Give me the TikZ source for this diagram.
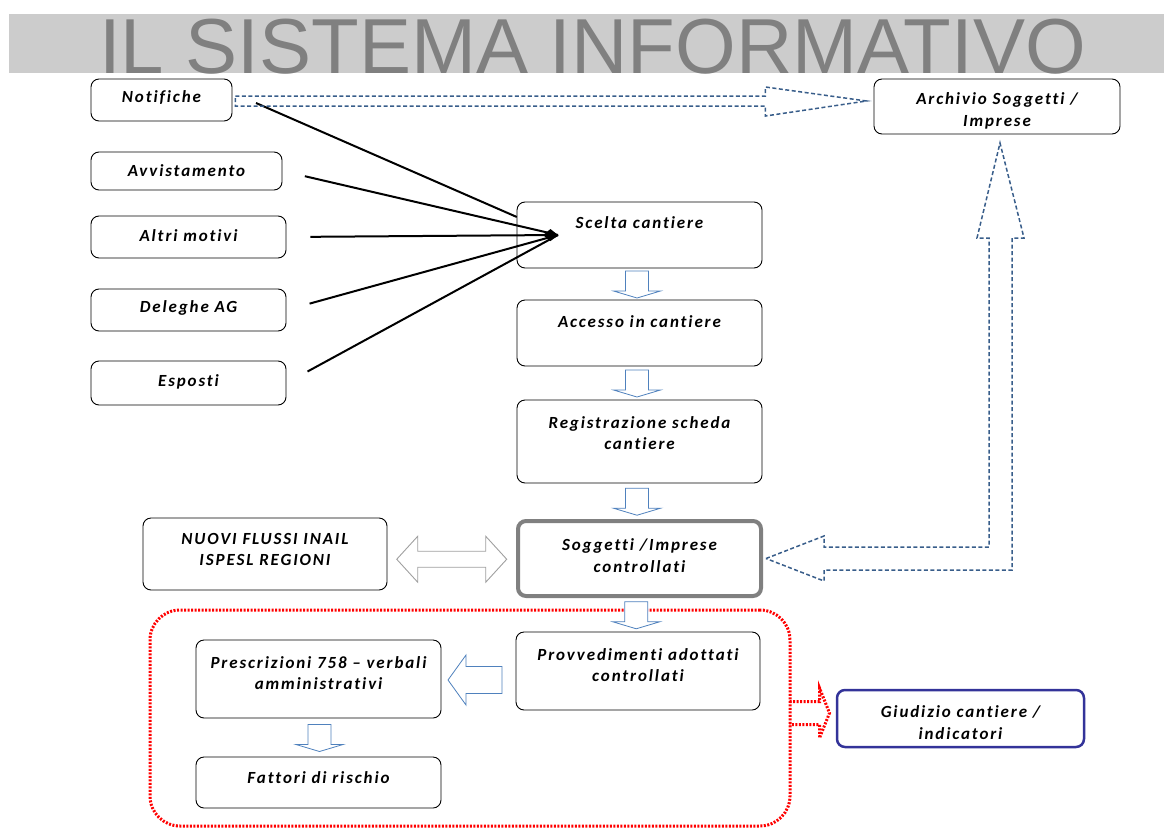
\documentclass[tikz,border=0pt]{standalone}
\usepackage{fontspec}
\usetikzlibrary{calc,arrows.meta}
\newfontfamily\boxfont[LetterSpace=11,Ligatures=NoCommon]{Carlito}
\newfontfamily\titlefont{Liberation Sans}
\definecolor{dashblue}{RGB}{56,93,138}
\definecolor{blkblue}{RGB}{79,129,189}
\definecolor{titlegray}{RGB}{128,128,128}
\definecolor{bandgray}{RGB}{204,204,204}
\definecolor{navyline}{RGB}{51,51,153}
\definecolor{dblgray}{RGB}{160,160,160}
\definecolor{redline}{RGB}{255,0,0}
\begin{document}
\begin{tikzpicture}[x=1pt,y=-1pt,
  box/.style={draw=black, line width=0.9pt, rounded corners=8pt, fill=white, inner sep=0pt},
  txt/.style={font=\boxfont\bfseries\itshape\fontsize{17}{21.5}\selectfont, align=center, inner sep=0pt},
  blk/.style={draw=blkblue, line width=0.8pt, fill=white, line join=miter},
  dblk/.style={draw=dashblue, line width=1.5pt, dash pattern=on 4pt off 2.5pt},
  reddot/.style={draw=redline, line width=3pt, dash pattern=on 2pt off 1.5pt},
  fan/.style={draw=black, line width=2pt}
]
\useasboundingbox (0,0) rectangle (1164,827);
% title band
\fill[bandgray] (9,14) rectangle (1164,73);
\node[font=\titlefont\fontsize{78}{78}\selectfont, text=titlegray, anchor=base, inner sep=0pt] (title) at (592.5,73) {IL SISTEMA INFORMATIVO};

% red dotted group
\node[reddot, rounded corners=30pt, minimum width=640pt, minimum height=216pt, inner sep=0pt] (redbox) at (470,718) {};

% boxes
\node[box, minimum width=141pt, minimum height=42pt] (notif) at (161.5,100) {};
\node[box, minimum width=191pt, minimum height=38pt] (avv) at (186.5,171) {};
\node[box, minimum width=195pt, minimum height=42pt] (altri) at (188.5,237) {};
\node[box, minimum width=195pt, minimum height=42pt] (deleghe) at (188.5,310) {};
\node[box, minimum width=195pt, minimum height=44pt] (esposti) at (188.5,383) {};
\node[box, minimum width=245pt, minimum height=66pt] (scelta) at (639.5,235) {};
\node[box, minimum width=245pt, minimum height=66pt] (accesso) at (639.5,333) {};
\node[box, minimum width=245pt, minimum height=83pt] (registr) at (639.5,441.5) {};
\node[box, draw=titlegray, line width=4pt, minimum width=243pt, minimum height=75pt] (sogg) at (639.5,558.5) {};
\node[box, minimum width=244pt, minimum height=78pt] (provv) at (638,671) {};
\node[box, minimum width=244pt, minimum height=72pt] (nuovi) at (265,554) {};
\node[box, minimum width=245pt, minimum height=78pt] (prescr) at (318.5,679) {};
\node[box, minimum width=245pt, minimum height=51pt] (fattori) at (318.5,782.5) {};
\node[box, minimum width=246pt, minimum height=55pt] (archivio) at (997,106.5) {};
\node[box, draw=navyline, line width=2.5pt, minimum width=247pt, minimum height=57pt] (giudizio) at (960.5,718.5) {};

% texts
\node[txt] (tnotif) at (161.5,98) {Notifiche};
\node[txt] (tavv) at (186.5,171) {Avvistamento};
\node[txt] (taltri) at (188.5,236) {Altri motivi};
\node[txt] (tdeleghe) at (188.5,308) {Deleghe AG};
\node[txt] (tesposti) at (188.5,382) {Esposti};
\node[txt] (tscelta) at (639.5,223) {Scelta cantiere};
\node[txt] (taccesso) at (639.5,322) {Accesso in cantiere};
\node[txt] (tregistr) at (639.5,433) {Registrazione scheda\\cantiere};
\node[txt] (tsogg) at (639.5,555.5) {Soggetti /Imprese\\controllati};
\node[txt] (tprovv) at (638,665) {Provvedimenti adottati\\controllati};
\node[txt] (tnuovi) at (265,549.5) {NUOVI FLUSSI INAIL\\ISPESL REGIONI};
\node[txt] (tprescr) at (318.5,673) {Prescrizioni 758 – verbali\\amministrativi};
\node[txt] (tfattori) at (318.5,778) {Fattori di rischio};
\node[txt] (tarchivio) at (997,111) {Archivio Soggetti /\\Imprese};
\node[txt] (tgiudizio) at (960.5,722.5) {Giudizio cantiere /\\indicatori};

% fan of lines into Scelta cantiere
\coordinate (hub) at (558,235);
\coordinate (nstart) at (256,103);
\draw[fan, shorten >=45pt] (nstart) -- (hub);
\draw[fan, shorten <=23pt] (avv.east) -- (hub);
\draw[fan, shorten <=24pt, -{Diamond[length=15pt,width=12pt]}] (altri.east) -- (hub);
\draw[fan, shorten <=24pt] (deleghe.east) -- (hub);
\draw[fan, shorten <=24pt] (esposti.east) -- (hub);

% block arrows down (center column)
\foreach \a/\b in {scelta/accesso, accesso/registr, registr/sogg, sogg/provv}{
  \draw[blk, shift={($(\a.south)!0.5!(\b.north)$)}, xshift=-2.5pt]
    (-11.5pt,13pt) -- (11.5pt,13pt) -- (11.5pt,-7pt) -- (23.5pt,-7pt) -- (0pt,-14pt)
    -- (-23.5pt,-7pt) -- (-11.5pt,-7pt) -- cycle;
}
% prescr -> fattori
\draw[blk, shift={($(prescr.south)!0.5!(fattori.north)$)}, xshift=1pt]
    (-11.5pt,13pt) -- (11.5pt,13pt) -- (11.5pt,-7pt) -- (23.5pt,-7pt) -- (0pt,-14pt)
    -- (-23.5pt,-7pt) -- (-11.5pt,-7pt) -- cycle;
% provv -> prescr (left)
\draw[blk, shift={($(prescr.east)!0.5!(provv.west)$)}, xshift=-3.5pt, yshift=-5pt]
    (-27pt,0pt) -- (-9pt,25pt) -- (-9pt,13.5pt) -- (27pt,13.5pt) -- (27pt,-13.5pt)
    -- (-9pt,-13.5pt) -- (-9pt,-25pt) -- cycle;
% gray double arrow nuovi <-> sogg
\draw[draw=dblgray, line width=0.9pt, fill=white, shift={($(nuovi.east)!0.5!(sogg.west)$)}, yshift=-3pt]
    (-55pt,0pt) -- (-34pt,23pt) -- (-34pt,8pt) -- (34pt,8pt) -- (34pt,23pt) -- (55pt,0pt)
    -- (34pt,-23pt) -- (34pt,-8pt) -- (-34pt,-8pt) -- (-34pt,-23pt) -- cycle;

% blue dashed arrow notif -> archivio
\draw[dblk, shift={(notif.east)}]
    (3pt,4pt) -- (533pt,4pt) -- (533pt,13pt) -- (634pt,-1pt) -- (533pt,-16pt)
    -- (533pt,-6pt) -- (3pt,-6pt) -- cycle;
% blue dashed L arrow: up to archivio and left to sogg
\draw[dblk, shift={(sogg.east)}]
    (3pt,0pt) -- (61pt,22.5pt) -- (61pt,11.5pt) -- (226pt,11.5pt) -- (226pt,320.5pt)
    -- (214pt,320.5pt) -- (237pt,415.5pt) -- (261pt,320.5pt) -- (249pt,320.5pt)
    -- (249pt,-11.5pt) -- (61pt,-11.5pt) -- (61pt,-22.5pt) -- cycle;

% red dotted arrow redbox -> giudizio
\draw[reddot, shift={($(redbox.east)+(0,-5)$)}]
    (-2pt,11.5pt) -- (28pt,11.5pt) -- (28pt,25pt) -- (38pt,0pt) -- (28pt,-25pt)
    -- (28pt,-11.5pt) -- (-2pt,-11.5pt);
\end{tikzpicture}
\end{document}
